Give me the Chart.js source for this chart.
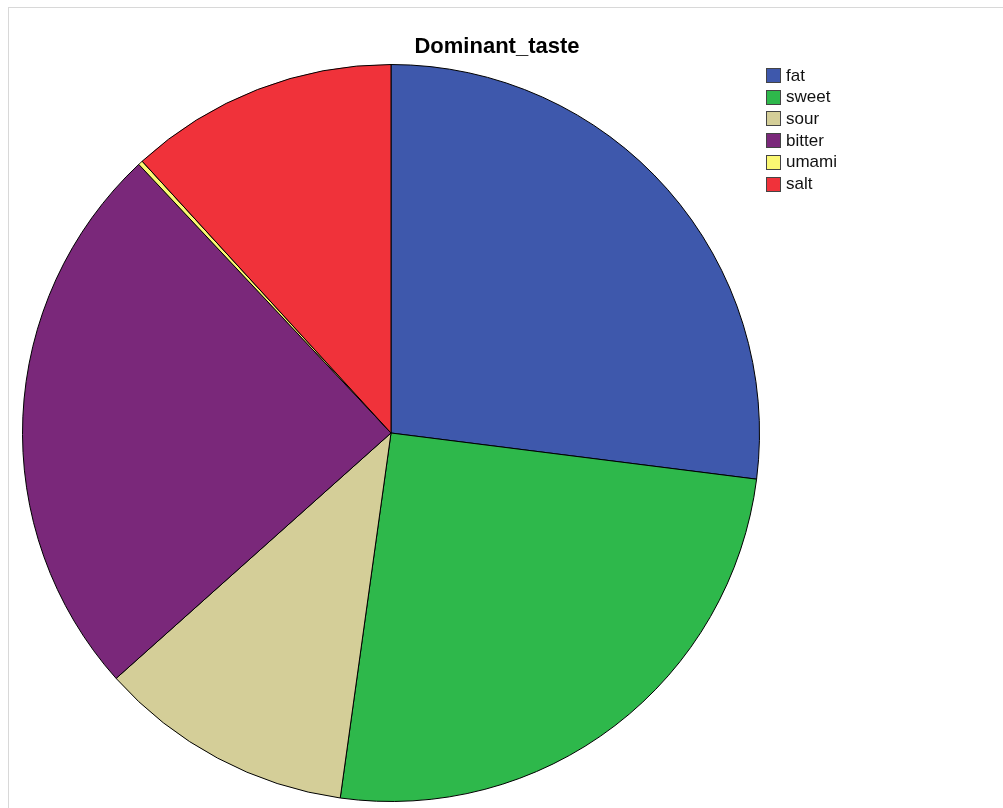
<!DOCTYPE html>
<html>
<head>
<meta charset="utf-8">
<title>Dominant_taste</title>
<script src="https://cdn.jsdelivr.net/npm/chart.js@4"></script>
<style>
  html, body { margin: 0; padding: 0; background: #fff; overflow: hidden; }
  #frame { position: absolute; left: 8px; top: 7px; width: 1100px; height: 900px; border: 1px solid #d8d8d8; }
  #myChart { position: absolute; left: 0; top: 0; }
</style>
</head>
<body>
<div id="frame"></div>
<canvas id="myChart" width="1003" height="808"></canvas>
<script>
const tasteLabels = ['fat', 'sweet', 'sour', 'bitter', 'umami', 'salt'];
const tasteCounts = [270, 252, 112, 246, 2, 118];
const chartTitle = 'Dominant_taste';

const SLICE_COLORS = ['#3e58ac', '#2eb84b', '#d4ce98', '#7a287a', '#fbf873', '#f0323a'];

// title and legend block drawn on top of the pie
const labelsPlugin = {
  id: 'tasteLabels',
  afterDraw(chart) {
    const ctx = chart.ctx;
    ctx.save();
    ctx.fillStyle = '#000';
    ctx.font = 'bold 22px "Liberation Sans", Arial, sans-serif';
    ctx.textAlign = 'center';
    ctx.textBaseline = 'alphabetic';
    ctx.fillText(chartTitle, 497, 53);

    ctx.font = '17px "Liberation Sans", Arial, sans-serif';
    ctx.textAlign = 'left';
    ctx.textBaseline = 'middle';
    const colors = chart.data.datasets[0].backgroundColor;
    chart.data.labels.forEach((lbl, i) => {
      const y = 75 + i * 21.7;
      ctx.fillStyle = colors[i];
      ctx.fillRect(766, Math.round(y - 7), 15, 15);
      ctx.strokeStyle = '#444';
      ctx.lineWidth = 1;
      ctx.strokeRect(766.5, Math.round(y - 7) + 0.5, 14, 14);
      ctx.fillStyle = '#111';
      ctx.fillText(lbl, 786, y + 1);
    });
    ctx.restore();
  }
};

const config = {
  type: 'pie',
  data: {
    labels: tasteLabels,
    datasets: [{
      data: tasteCounts,
      backgroundColor: SLICE_COLORS,
      borderColor: '#000',
      borderWidth: 1
    }]
  },
  options: {
    responsive: false,
    animation: false,
    layout: { padding: { left: 22, top: 64, right: 243, bottom: 6 } },
    plugins: {
      legend: { display: false },
      title: { display: false },
      tooltip: { enabled: false }
    }
  },
  plugins: [labelsPlugin]
};

const myChart = new Chart(document.getElementById('myChart'), config);
</script>
</body>
</html>
